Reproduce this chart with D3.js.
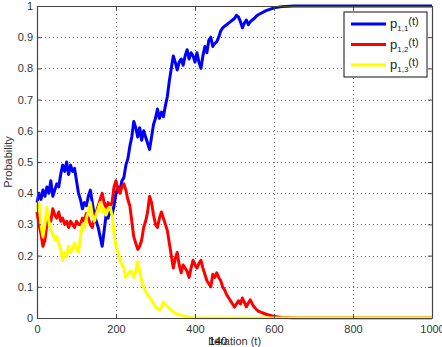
<!DOCTYPE html>
<html>
<head>
<meta charset="utf-8">
<script src="https://cdn.jsdelivr.net/npm/d3@7"></script>
<style>
  body { margin: 0; background: #fff; }
  svg { display: block; font-family: "Liberation Sans", Arial, sans-serif; }
</style>
</head>
<body>
<svg width="442" height="347"></svg>
<script>
// iteration index (denser where the curves wiggle)
let iterations = [
  0,5,10,15,20,25,30,35,40,45,50,55,60,65,70,75,80,85,90,95,
  100,105,110,115,120,125,130,135,140,145,150,155,160,165,170,175,180,185,190,195,
  200,205,210,215,220,225,230,235,240,245,250,255,260,265,270,275,280,285,290,295,
  300,305,310,315,320,325,330,335,340,345,350,355,360,365,370,375,380,385,390,395,
  400,405,410,415,420,425,430,435,440,445,450,455,460,465,470,475,480,485,490,495,
  500,505,510,515,520,525,530,535,540,545,550,555,560,580,600,620,650,700,800,900,1000
];

let p11 = [
  0.37,0.40,0.38,0.41,0.39,0.42,0.40,0.44,0.39,0.41,0.43,0.42,0.46,0.49,0.47,0.50,0.46,0.49,0.47,0.48,
  0.44,0.40,0.38,0.35,0.37,0.36,0.39,0.41,0.37,0.33,0.31,0.29,0.26,0.23,0.28,0.33,0.32,0.35,0.33,0.36,
  0.40,0.42,0.41,0.44,0.45,0.49,0.51,0.55,0.58,0.63,0.61,0.58,0.61,0.57,0.60,0.58,0.56,0.54,0.58,0.62,
  0.64,0.67,0.64,0.66,0.645,0.68,0.71,0.76,0.80,0.84,0.82,0.795,0.82,0.83,0.81,0.84,0.86,0.83,0.85,0.84,
  0.82,0.85,0.82,0.80,0.84,0.87,0.85,0.89,0.90,0.87,0.88,0.885,0.90,0.92,0.93,0.935,0.94,0.945,0.95,0.955,
  0.96,0.97,0.965,0.95,0.93,0.945,0.955,0.94,0.95,0.955,0.96,0.967,0.972,0.985,0.994,0.998,1,1,1,1,1
];

let p12 = [
  0.34,0.30,0.27,0.23,0.25,0.30,0.32,0.31,0.35,0.33,0.32,0.34,0.31,0.32,0.30,0.31,0.29,0.31,0.30,0.29,
  0.31,0.30,0.30,0.32,0.31,0.335,0.32,0.30,0.29,0.32,0.34,0.36,0.38,0.40,0.37,0.35,0.37,0.36,0.37,0.42,
  0.44,0.41,0.40,0.42,0.43,0.41,0.38,0.36,0.31,0.26,0.24,0.22,0.23,0.25,0.29,0.31,0.34,0.39,0.37,0.33,
  0.30,0.29,0.32,0.34,0.32,0.30,0.28,0.24,0.20,0.16,0.19,0.21,0.17,0.145,0.17,0.16,0.15,0.13,0.16,0.185,
  0.17,0.16,0.175,0.185,0.16,0.14,0.12,0.11,0.10,0.14,0.13,0.145,0.13,0.12,0.10,0.09,0.075,0.065,0.055,0.045,
  0.035,0.045,0.055,0.045,0.064,0.05,0.036,0.048,0.058,0.045,0.035,0.028,0.022,0.012,0.005,0.002,0,0,0,0,0
];

let p13 = [
  0.35,0.37,0.30,0.26,0.30,0.355,0.31,0.28,0.27,0.25,0.26,0.24,0.22,0.185,0.21,0.20,0.23,0.21,0.22,0.24,
  0.22,0.21,0.26,0.30,0.29,0.32,0.34,0.37,0.33,0.31,0.33,0.35,0.37,0.34,0.35,0.33,0.35,0.355,0.33,0.27,
  0.23,0.21,0.19,0.17,0.16,0.13,0.14,0.15,0.147,0.13,0.15,0.18,0.15,0.12,0.10,0.085,0.075,0.065,0.058,0.045,
  0.035,0.03,0.026,0.035,0.05,0.045,0.038,0.03,0.025,0.02,0.016,0.013,0.011,0.009,0.007,0.005,0.004,0.003,0.002,0.001,
  0,0,0,0,0,0,0,0,0,0,0,0,0,0,0,0,0,0,0,0,
  0,0,0,0,0,0,0,0,0,0,0,0,0,0,0,0,0,0,0,0,0
];

let seriesNames = ["1,1", "1,2", "1,3"];
let seriesColors = ["#0000ff", "#ff0000", "#ffff00"];
let xTicks = [0, 200, 400, 600, 800, 1000];
let yTicks = [0, 0.1, 0.2, 0.3, 0.4, 0.5, 0.6, 0.7, 0.8, 0.9, 1];

let svg = d3.select("svg");
let margin = {left: 37, right: 10, top: 6, bottom: 29};
let width = 442, height = 347;

let x = d3.scaleLinear().domain([0, 1000]).range([margin.left, width - margin.right]);
let y = d3.scaleLinear().domain([0, 1]).range([height - margin.bottom, margin.top]);

// dotted grid
let grid = svg.append("g").attr("stroke", "#666").attr("stroke-width", 1)
  .attr("stroke-dasharray", "1,3");
grid.selectAll("line.gx").data(xTicks.slice(1, -1)).join("line")
  .attr("x1", d => Math.round(x(d)) + 0.5).attr("x2", d => Math.round(x(d)) + 0.5)
  .attr("y1", y(1)).attr("y2", y(0));
grid.selectAll("line.gy").data(yTicks.slice(1, -1)).join("line")
  .attr("y1", d => Math.round(y(d)) + 0.5).attr("y2", d => Math.round(y(d)) + 0.5)
  .attr("x1", x(0)).attr("x2", x(1000));

// curves
let allSeries = [p11, p12, p13];
let line = d3.line()
  .x((d, i) => x(iterations[i]))
  .y(d => y(d));

svg.append("g").selectAll("path")
  .data(allSeries)
  .join("path")
    .attr("fill", "none")
    .attr("stroke", (d, i) => seriesColors[i])
    .attr("stroke-width", 3)
    .attr("stroke-linejoin", "round")
    .attr("d", line);

// axes, MATLAB style: inward ticks on all four sides
let axisColor = "#444";
let fmt = d3.format("");
let axB = svg.append("g").attr("transform", `translate(0,${y(0)})`)
  .call(d3.axisBottom(x).tickValues(xTicks).tickFormat(fmt).tickSizeInner(-4).tickSizeOuter(0).tickPadding(7));
let axT = svg.append("g").attr("transform", `translate(0,${y(1)})`)
  .call(d3.axisTop(x).tickValues(xTicks).tickFormat("").tickSizeInner(-4).tickSizeOuter(0));
let axL = svg.append("g").attr("transform", `translate(${x(0)},0)`)
  .call(d3.axisLeft(y).tickValues(yTicks).tickFormat(fmt).tickSizeInner(-4).tickSizeOuter(0).tickPadding(4));
let axR = svg.append("g").attr("transform", `translate(${x(1000)},0)`)
  .call(d3.axisRight(y).tickValues(yTicks).tickFormat("").tickSizeInner(-4).tickSizeOuter(0));

[axB, axT, axL, axR].forEach(a => {
  a.select(".domain").attr("stroke", axisColor).attr("stroke-width", 1.2);
  a.selectAll(".tick line").attr("stroke", axisColor);
  a.selectAll("text").attr("fill", "#333").attr("font-size", 11)
    .attr("font-family", "Liberation Sans, Arial, sans-serif");
});

// axis labels
svg.append("text")
  .attr("x", (x(0) + x(1000)) / 2).attr("y", 345)
  .attr("text-anchor", "middle").attr("font-size", 11).attr("fill", "#333")
  .text("Iteration (t)");
svg.append("text")
  .attr("x", 218).attr("y", 345)
  .attr("text-anchor", "middle").attr("font-size", 11).attr("fill", "#111")
  .text("140");
svg.append("text")
  .attr("transform", `translate(12,${(y(0) + y(1)) / 2}) rotate(-90)`)
  .attr("text-anchor", "middle").attr("font-size", 11).attr("fill", "#333")
  .text("Probability");

// legend
let legend = svg.append("g").attr("transform", "translate(344,12)");
legend.append("rect")
  .attr("width", 83).attr("height", 65)
  .attr("fill", "#fff").attr("stroke", "#111").attr("stroke-width", 1);
let entry = legend.selectAll("g.entry").data(seriesNames).join("g")
  .attr("class", "entry")
  .attr("transform", (d, i) => `translate(0,${12 + i * 20.5})`);
entry.append("line")
  .attr("x1", 7).attr("x2", 42)
  .attr("stroke", (d, i) => seriesColors[i]).attr("stroke-width", 3);
let label = entry.append("text")
  .attr("x", 46).attr("y", 4)
  .attr("font-size", 13).attr("fill", "#222");
label.append("tspan").text("p");
label.append("tspan").attr("font-size", 8).attr("dy", 3).text(d => d);
label.append("tspan").attr("font-size", 11).attr("dy", -6).text("(t)");
</script>
</body>
</html>
